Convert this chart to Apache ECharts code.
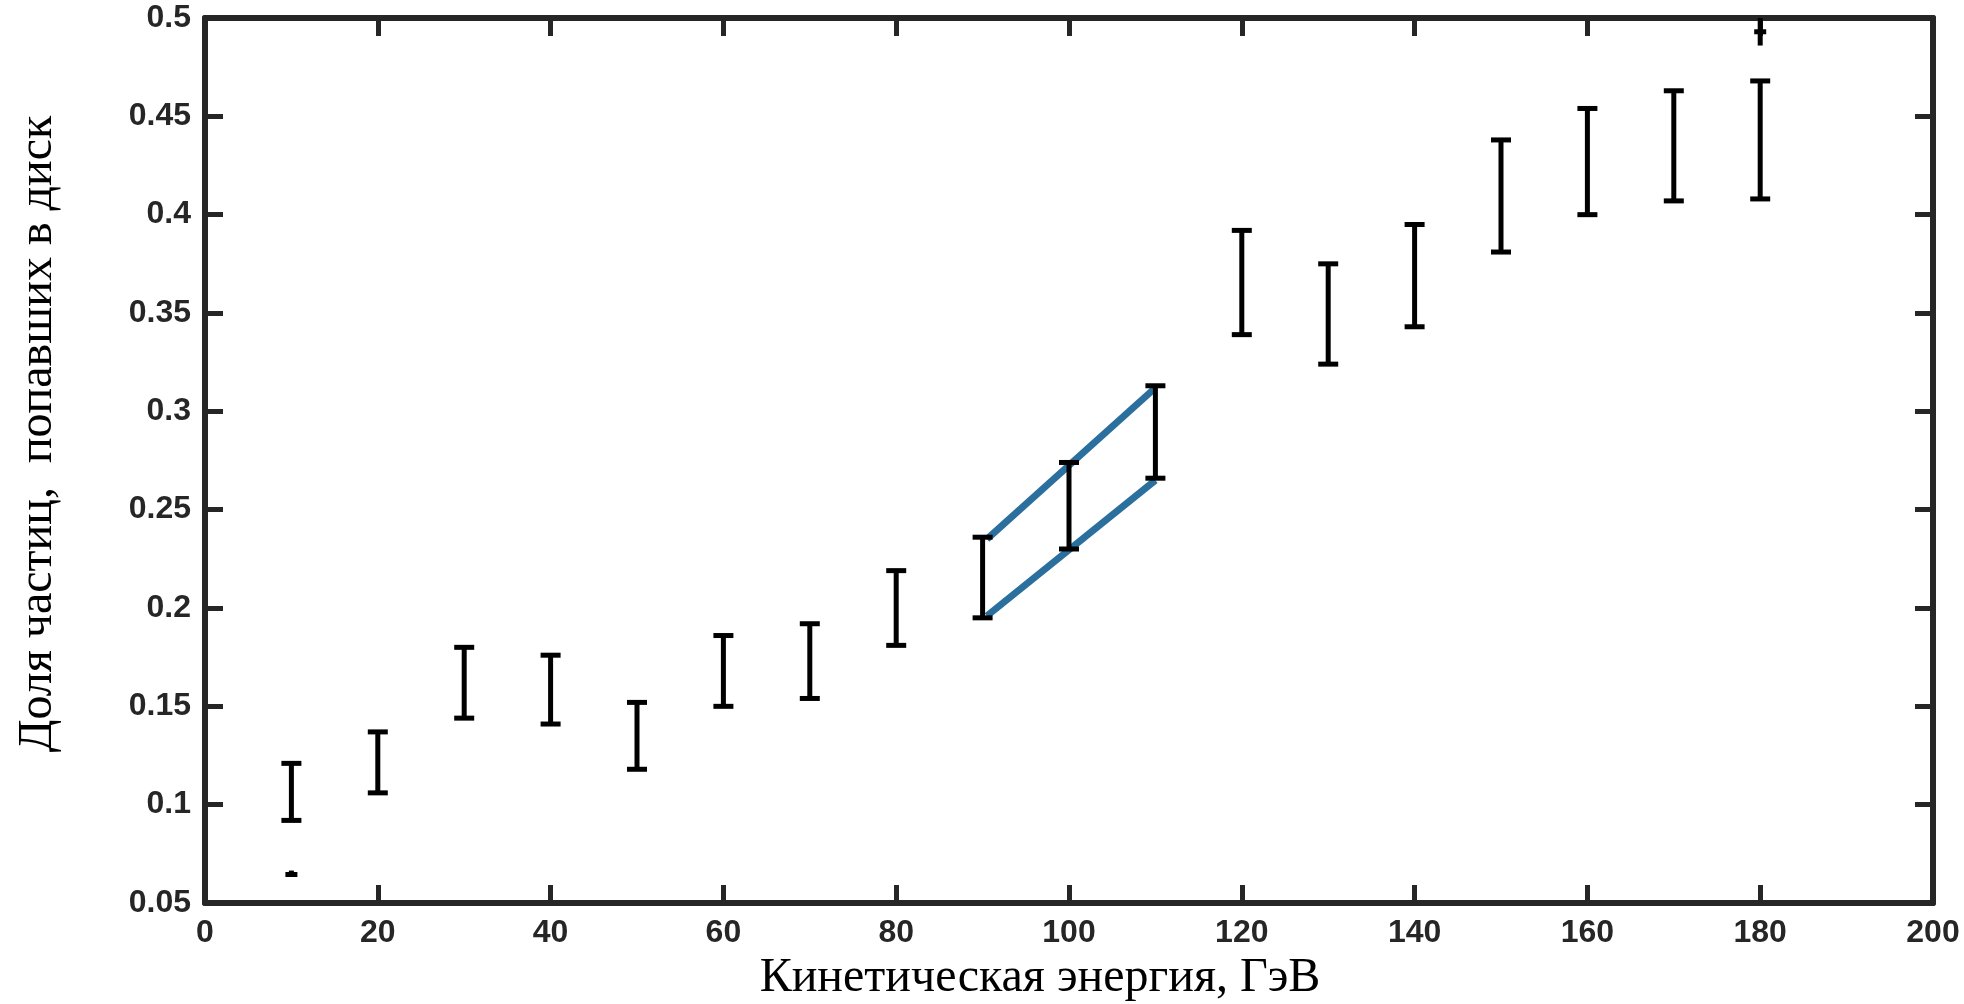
<!DOCTYPE html>
<html><head><meta charset="utf-8">
<script src="https://cdn.jsdelivr.net/npm/echarts@6/dist/echarts.min.js"></script>
<style>html,body{margin:0;padding:0;background:#fff}#c{width:1964px;height:1004px}</style>
</head><body><div id="c"></div>
<script>
// Data
const energies = [10,20,30,40,50,60,70,80,90,100,110,120,130,140,150,160,170,180];
const lowVals  = [0.092,0.106,0.144,0.141,0.118,0.150,0.154,0.181,0.195,0.230,0.266,0.339,0.324,0.343,0.381,0.400,0.407,0.408];
const highVals = [0.121,0.137,0.180,0.176,0.152,0.186,0.192,0.219,0.236,0.274,0.313,0.392,0.375,0.395,0.438,0.454,0.463,0.468];
// small fragments: [x, low, high, capY]
const fragX    = [10, 180];
const fragLow  = [0.0645, 0.486];
const fragHigh = [0.0665, 0.5];
const fragCap  = [0.0645, 0.493];
// blue guide lines
const upperLine = [[90.5,0.235],[110,0.312]];
const lowerLine = [[90.5,0.196],[110,0.265]];
const xTicks = [0,20,40,60,80,100,120,140,160,180,200];
const yTicks = [0.05,0.1,0.15,0.2,0.25,0.3,0.35,0.4,0.45,0.5];

const ink = '#262626';
const chart = echarts.init(document.getElementById('c'));
const errData = energies.map((x,i)=>[x,lowVals[i],highVals[i]]);
const fragData = fragX.map((x,i)=>[x,fragLow[i],fragHigh[i],fragCap[i]]);

function errItem(params, api){
  const lo = api.coord([api.value(0), api.value(1)]);
  const hi = api.coord([api.value(0), api.value(2)]);
  const hw = 10;
  const st = {stroke:'#000', lineWidth:5};
  return {type:'group', children:[
    {type:'line', shape:{x1:lo[0],y1:lo[1],x2:hi[0],y2:hi[1]}, style:st},
    {type:'line', shape:{x1:lo[0]-hw,y1:lo[1],x2:lo[0]+hw,y2:lo[1]}, style:st},
    {type:'line', shape:{x1:hi[0]-hw,y1:hi[1],x2:hi[0]+hw,y2:hi[1]}, style:st}
  ]};
}
function fragItem(params, api){
  const lo = api.coord([api.value(0), api.value(1)]);
  const hi = api.coord([api.value(0), api.value(2)]);
  const cp = api.coord([api.value(0), api.value(3)]);
  const st = {stroke:'#000', lineWidth:5};
  return {type:'group', children:[
    {type:'line', shape:{x1:lo[0],y1:lo[1],x2:hi[0],y2:hi[1]}, style:st},
    {type:'line', shape:{x1:cp[0]-6,y1:cp[1],x2:cp[0]+6,y2:cp[1]}, style:st}
  ]};
}

const axisLbl = {color:ink, fontFamily:'Liberation Sans, Arial, sans-serif', fontWeight:'bold', fontSize:32};
const yFmt = v => String(+(+v).toFixed(2));
const axLine = {show:true, onZero:false, lineStyle:{color:ink, width:6}};
const axTick = {show:true, inside:true, length:18, lineStyle:{color:ink, width:5}};

chart.setOption({
  animation:false,
  backgroundColor:'#fff',
  grid:{left:205, right:31, top:18, bottom:101, containLabel:false},
  xAxis:[
    {type:'value', min:0, max:200, interval:20, position:'bottom',
     axisLine:axLine, axisTick:axTick,
     axisLabel:Object.assign({margin:14, formatter:v=>String(v)}, axisLbl),
     splitLine:{show:false}},
    {type:'value', min:0, max:200, interval:20, position:'top',
     axisLine:axLine, axisTick:axTick,
     axisLabel:{show:false}, splitLine:{show:false}}
  ],
  yAxis:[
    {type:'value', min:0.05, max:0.5, interval:0.05, position:'left',
     axisLine:axLine, axisTick:axTick,
     axisLabel:Object.assign({margin:14, formatter:yFmt}, axisLbl),
     splitLine:{show:false}},
    {type:'value', min:0.05, max:0.5, interval:0.05, position:'right',
     axisLine:axLine, axisTick:axTick,
     axisLabel:{show:false}, splitLine:{show:false}}
  ],
  graphic:[
    {type:'text', x:1040, y:978, style:{text:'Кинетическая энергия, ГэВ', fill:'#000',
      font:'48px "Liberation Serif", "Times New Roman", serif', textAlign:'center', textVerticalAlign:'middle'}},
    {type:'text', x:38, y:434, rotation:Math.PI/2, style:{text:'Доля частиц,  попавших в диск', fill:'#000',
      font:'48px "Liberation Serif", "Times New Roman", serif', textAlign:'center', textVerticalAlign:'middle'}}
  ],
  series:[
    {type:'line', data:upperLine, showSymbol:false, symbol:'none', z:2,
     lineStyle:{color:'#2a6f9d', width:7}},
    {type:'line', data:lowerLine, showSymbol:false, symbol:'none', z:2,
     lineStyle:{color:'#2a6f9d', width:7}},
    {type:'custom', data:errData, renderItem:errItem, z:5, clip:false},
    {type:'custom', data:fragData, renderItem:fragItem, z:5, clip:false}
  ]
});
</script></body></html>
